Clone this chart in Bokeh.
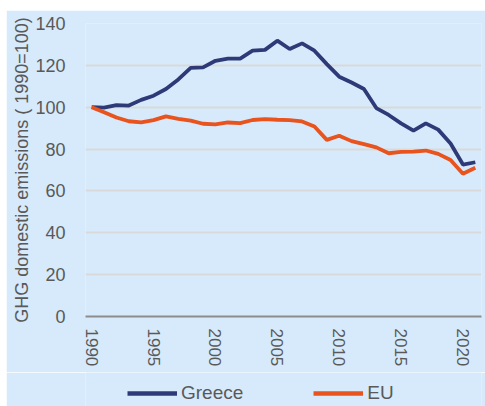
from bokeh.plotting import figure
from bokeh.models import ColumnDataSource, Legend, LegendItem, FixedTicker, Range1d, Spacer
from bokeh.layouts import column, row
from bokeh.embed import file_html
from bokeh.resources import INLINE

years = list(range(1990, 2022))
greece = [100, 99.8, 101, 100.8, 103.5, 105.5, 108.7, 113.3, 118.8, 119.0,
          122.2, 123.2, 123.2, 127.0, 127.4, 131.8, 127.8, 130.5, 127.0, 120.6,
          114.6, 111.8, 108.7, 99.6, 96.3, 92.3, 88.8, 92.3, 89.3, 82.7,
          72.6, 73.7]
eu = [100, 97.6, 95.1, 93.3, 92.8, 93.8, 95.6, 94.4, 93.6, 92.1,
      91.8, 92.7, 92.4, 93.9, 94.3, 94.0, 93.8, 93.2, 90.8, 84.4,
      86.4, 83.8, 82.4, 80.8, 78.0, 78.7, 78.8, 79.3, 77.7, 74.8,
      68.2, 71.1]
x_ticks = [1990, 1995, 2000, 2005, 2010, 2015, 2020]
y_ticks = [0, 20, 40, 60, 80, 100, 120, 140]
series_names = ["Greece", "EU"]
series_cols = ["greece", "eu"]
series_colors = ["#2E3A78", "#E9531D"]

FONT = "Liberation Sans"
BG = "#D6EAFB"
TXT = "#595959"

src = ColumnDataSource(dict(year=years, greece=greece, eu=eu))

p = figure(width=479, height=362, output_backend="svg", toolbar_location=None,
           x_range=Range1d(1989.5, 2021.5), y_range=Range1d(0, 140),
           min_border_left=79, min_border_right=4, min_border_top=13,
           min_border_bottom=56)
p.background_fill_color = BG
p.border_fill_color = BG
p.outline_line_color = None

for c, col in zip(series_cols, series_colors):
    p.line("year", c, source=src, line_color=col, line_width=3.8)

p.xgrid.grid_line_color = None
p.ygrid.grid_line_color = "#D9D9D9"
p.ygrid.grid_line_width = 2

p.xaxis.ticker = FixedTicker(ticks=x_ticks)
p.xaxis.major_label_orientation = "vertical"
p.xaxis.major_label_text_font = FONT
p.xaxis.major_label_text_font_size = "17px"
p.xaxis.major_label_text_color = TXT
p.xaxis.major_tick_line_color = None
p.xaxis.minor_tick_line_color = None
p.xaxis.axis_line_color = "#8C8C8C"
p.xaxis.axis_line_width = 2
p.xaxis.major_label_standoff = 6

p.yaxis.ticker = FixedTicker(ticks=y_ticks)
p.yaxis.major_label_text_font = FONT
p.yaxis.major_label_text_font_size = "18px"
p.yaxis.major_label_text_color = TXT
p.yaxis.major_tick_line_color = None
p.yaxis.minor_tick_line_color = None
p.yaxis.axis_line_color = None
p.yaxis.major_label_standoff = 14
p.yaxis.axis_label = "GHG domestic emissions ( 1990=100)"
p.yaxis.axis_label_text_font = FONT
p.yaxis.axis_label_text_font_size = "18px"
p.yaxis.axis_label_text_font_style = "normal"
p.yaxis.axis_label_text_color = TXT
p.yaxis.axis_label_standoff = 0

# legend strip below the chart (its lines use the same data, kept out of view)
pl = figure(width=479, height=34, output_backend="svg", toolbar_location=None,
            x_range=Range1d(1989.5, 2021.5), y_range=Range1d(1000, 1001),
            min_border=0, x_axis_location=None, y_axis_location=None)
pl.background_fill_color = BG
pl.border_fill_color = BG
pl.outline_line_color = None
pl.grid.visible = False
items = []
for name, c, col in zip(series_names, series_cols, series_colors):
    rr = pl.line("year", c, source=src, line_color=col, line_width=4.5)
    items.append(LegendItem(label=name, renderers=[rr]))
legend = Legend(items=items, orientation="horizontal", location=(42, 2),
                glyph_width=50, glyph_height=18, label_standoff=4, spacing=70,
                padding=0, margin=0,
                label_text_font=FONT, label_text_font_size="19px",
                label_text_color=TXT,
                background_fill_alpha=0, border_line_color=None)
pl.add_layout(legend, "center")

layout = column(Spacer(height=10, width=485),
                row(Spacer(width=6, height=396), column(p, pl, spacing=0)),
                spacing=0)

open("out.html", "w").write(file_html(layout, INLINE))
